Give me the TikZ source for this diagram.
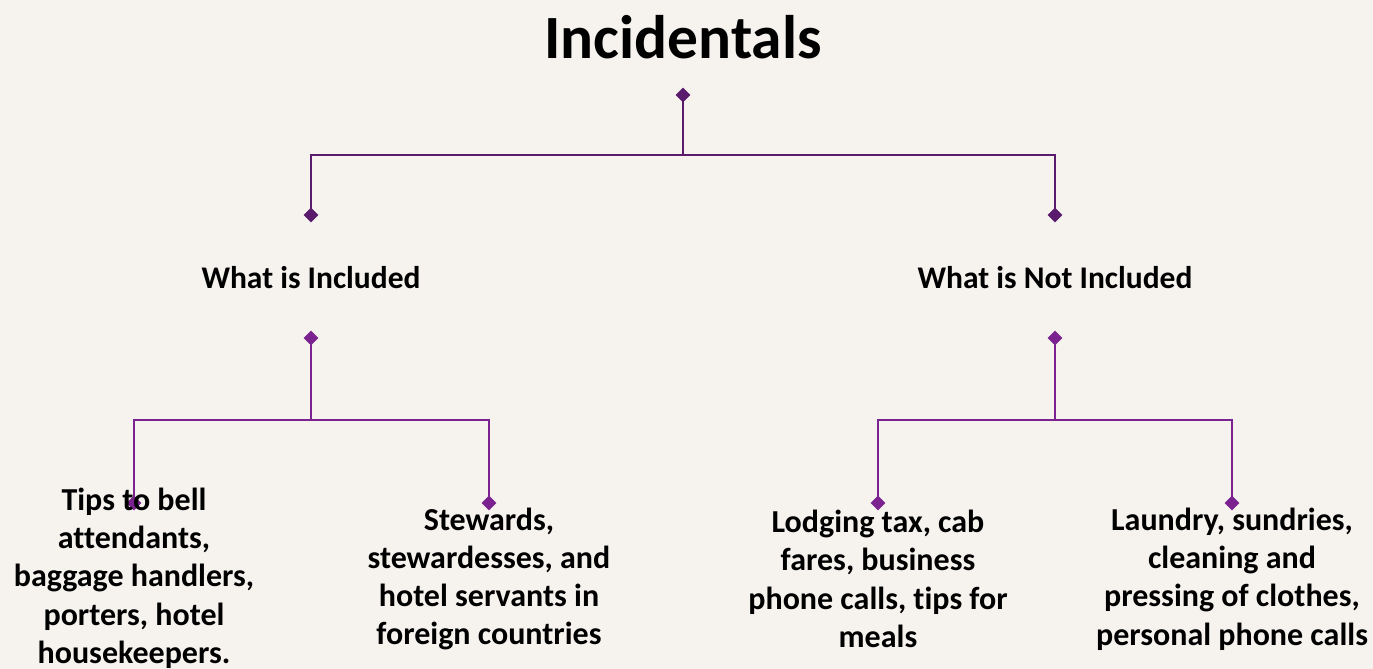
\documentclass[tikz,border=0pt]{standalone}
\usepackage{fontspec}
\setmainfont{Carlito}[Ligatures={NoCommon}]
\usetikzlibrary{shapes.geometric}
\definecolor{bg}{HTML}{F6F3EF}
\definecolor{pdark}{HTML}{5A1B6C}
\definecolor{plight}{HTML}{7A2390}
\tikzset{
  dia/.style={diamond, fill=#1, inner sep=0pt, minimum width=15pt, minimum height=15pt},
  conn/.style={draw=#1, line width=2.4pt},
  childtext/.style={align=center, font=\bfseries\fontsize{32}{38.3}\selectfont, inner sep=0pt},
  labeltext/.style={align=center, font=\bfseries\fontsize{31.5}{36}\selectfont, inner sep=0pt},
}
\begin{document}
\begin{tikzpicture}[x=1pt,y=-1pt]
\fill[bg] (0,0) rectangle (1373,669);
\useasboundingbox (0,0) rectangle (1373,669);
\node[font=\bfseries\fontsize{61.5}{72}\selectfont, inner sep=0pt] (title) at (683,37) {Incidentals};
% top level
\coordinate (hbar) at (683,155);
\node[dia=pdark] (root) at (683,95) {};
\node[dia=pdark] (dA) at (311,215) {};
\node[dia=pdark] (dB) at (1055,215) {};
\draw[conn=pdark] (root.center) -- (hbar) -| (dA.center);
\draw[conn=pdark] (hbar) -| (dB.center);
\node[labeltext] (lA) at (311,278) {What is Included};
\node[labeltext] (lB) at (1055,278) {What is Not Included};
% second level
\node[dia=plight] (rA) at (311,338) {};
\node[dia=plight] (rB) at (1055,338) {};
\node[dia=plight] (c1) at (134,503) {};
\node[dia=plight] (c2) at (489,503) {};
\node[dia=plight] (c3) at (878,503) {};
\node[dia=plight] (c4) at (1232,503) {};
\coordinate (hA) at (311,420);
\coordinate (hB) at (1055,420);
\draw[conn=plight] (rA.center) -- (hA) -| (c1.center);
\draw[conn=plight] (hA) -| (c2.center);
\draw[conn=plight] (rB.center) -- (hB) -| (c3.center);
\draw[conn=plight] (hB) -| (c4.center);
\node[childtext] (t1) at (134,578) {Tips to bell\\attendants,\\baggage handlers,\\porters, hotel\\housekeepers.};
\node[childtext] (t2) at (489,579) {Stewards,\\stewardesses, and\\hotel servants in\\foreign countries};
\node[childtext] (t3) at (878,579) {Lodging tax, cab\\fares, business\\phone calls, tips for\\meals};
\node[childtext] (t4) at (1232,579) {Laundry, sundries,\\cleaning and\\pressing of clothes,\\personal phone calls};
\end{tikzpicture}
\end{document}
